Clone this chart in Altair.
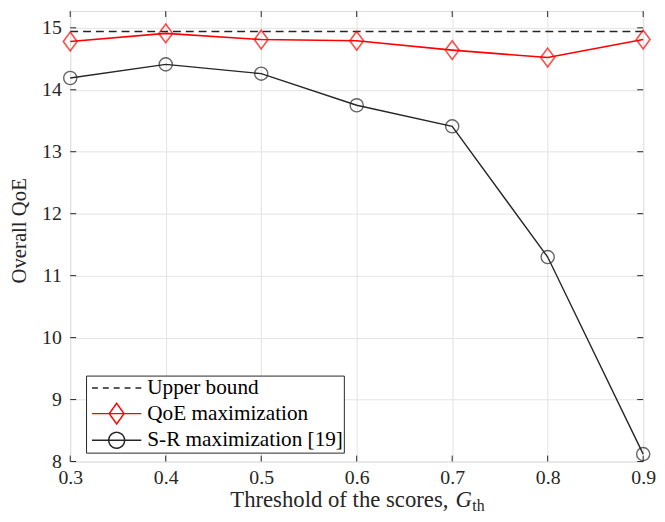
import altair as alt
import pandas as pd

thresholds = [0.3, 0.4, 0.5, 0.6, 0.7, 0.8, 0.9]
upper_bound = [14.94, 14.94, 14.94, 14.94, 14.94, 14.94, 14.94]
qoe_max = [14.78, 14.91, 14.81, 14.79, 14.64, 14.52, 14.81]
sr_max = [14.19, 14.41, 14.26, 13.75, 13.41, 11.30, 8.12]
series_names = ["Upper bound", "QoE maximization", "S-R maximization [19]"]
x_ticks = [0.3, 0.4, 0.5, 0.6, 0.7, 0.8, 0.9]
y_ticks = [8, 9, 10, 11, 12, 13, 14, 15]

rows = []
for name, vals in zip(series_names, [upper_bound, qoe_max, sr_max]):
    for t, v in zip(thresholds, vals):
        rows.append({"t": t, "v": v, "series": name})
df = pd.DataFrame(rows)

W, H = 580, 456
FONT = "Liberation Serif"
AX = "#262626"
RED = "#ff0000"

xs = alt.Scale(domain=[0.3, 0.9], nice=False, zero=False)
ys = alt.Scale(domain=[8, 15.27], nice=False, zero=False)

base = alt.Chart(df)

x_enc = alt.X("t:Q", scale=xs, axis=alt.Axis(
    values=x_ticks, format=".1f", title=None, tickSize=0, domain=False,
    labelPadding=6, labelFontSize=20, labelFont=FONT, labelColor=AX, labelFlush=False,
    grid=True, gridColor="#e3e3e3", gridWidth=1))
y_enc = alt.Y("v:Q", scale=ys, axis=alt.Axis(
    values=y_ticks, format="d", title="Overall QoE", tickSize=0, domain=False,
    labelPadding=9, labelFontSize=20, labelFont=FONT, labelColor=AX, labelFlush=False,
    titleFont=FONT, titleFontSize=21, titleFontWeight="normal", titleColor=AX,
    titleX=-51, titleY=222, titleAngle=270, titleBaseline="middle", titleAlign="center",
    grid=True, gridColor="#e3e3e3", gridWidth=1))

line_ub = base.transform_filter(alt.datum.series == "Upper bound").mark_line(
    color=AX, strokeWidth=1.4, strokeDash=[8, 5]).encode(x=x_enc, y=y_enc)
line_q = base.transform_filter(alt.datum.series == "QoE maximization").mark_line(
    color=RED, strokeWidth=1.6).encode(x="t:Q", y="v:Q")
line_s = base.transform_filter(alt.datum.series == "S-R maximization [19]").mark_line(
    color=AX, strokeWidth=1.4).encode(x="t:Q", y="v:Q")

diamond = "M0,-0.68L0.5,0L0,0.68L-0.5,0Z"
pts_q = base.transform_filter(alt.datum.series == "QoE maximization").mark_point(
    shape=diamond, size=784, color=RED, strokeWidth=1.6, filled=False).encode(x="t:Q", y="v:Q")
pts_s = base.transform_filter(alt.datum.series == "S-R maximization [19]").mark_point(
    shape="circle", size=177, color=AX, strokeWidth=1.4, filled=False).encode(x="t:Q", y="v:Q")

# legend
leg_paths = [
    "M-2.27,0H2.27",
    "M-2.27,0H2.27M0,-0.95L0.68,0L0,0.95L-0.68,0Z",
    "M-2.27,0H2.27M-0.73,0A0.73,0.73,0,1,1,0.73,0A0.73,0.73,0,1,1,-0.73,0Z",
]
leg_df = pd.DataFrame({"series": series_names})
legend = alt.Legend(
    title=None, orient="none", legendX=16, legendY=369,
    labelFont=FONT, labelFontSize=21.5, labelColor="#000000", labelLimit=400,
    symbolSize=484, symbolStrokeWidth=1.5, symbolOpacity=1,
    strokeColor=AX, fillColor="white", padding=0.5, rowPadding=1,
    symbolOffset=18.5, labelOffset=19, cornerRadius=0)
leg = alt.Chart(leg_df).mark_point(size=0, opacity=0, filled=False).encode(
    x=alt.value(0), y=alt.value(0),
    color=alt.Color("series:N", scale=alt.Scale(domain=series_names, range=[AX, RED, AX]), legend=legend),
    shape=alt.Shape("series:N", scale=alt.Scale(domain=series_names, range=leg_paths), legend=legend),
    strokeDash=alt.StrokeDash("series:N", scale=alt.Scale(domain=series_names, range=[[6, 5], [1, 0], [1, 0]]), legend=legend),
)

# inward ticks
xt = pd.DataFrame({"t": x_ticks})
yt = pd.DataFrame({"v": y_ticks})
tick_b = alt.Chart(xt).mark_rule(color=AX, strokeWidth=1).encode(x="t:Q", y=alt.value(H), y2=alt.value(H - 6))
tick_t = alt.Chart(xt).mark_rule(color=AX, strokeWidth=1).encode(x="t:Q", y=alt.value(0), y2=alt.value(6))
tick_l = alt.Chart(yt).mark_rule(color=AX, strokeWidth=1).encode(y="v:Q", x=alt.value(0), x2=alt.value(6))
tick_r = alt.Chart(yt).mark_rule(color=AX, strokeWidth=1).encode(y="v:Q", x=alt.value(W), x2=alt.value(W - 6))

# x title with subscript
tdf = pd.DataFrame({"a": [0]})
t_main = alt.Chart(tdf).mark_text(font=FONT, fontSize=23, align="left", baseline="alphabetic", color=AX).encode(
    x=alt.value(162), y=alt.value(502), text=alt.value("Threshold of the scores,"))
t_g = alt.Chart(tdf).mark_text(font=FONT, fontSize=23, fontStyle="italic", align="left", baseline="alphabetic", color=AX).encode(
    x=alt.value(390), y=alt.value(502), text=alt.value("G"))
t_th = alt.Chart(tdf).mark_text(font=FONT, fontSize=16, align="left", baseline="alphabetic", color=AX).encode(
    x=alt.value(407), y=alt.value(506), text=alt.value("th"))

chart = alt.layer(
    line_ub, line_q, line_s, pts_q, pts_s, leg,
    tick_b, tick_t, tick_l, tick_r, t_main, t_g, t_th
).properties(
    width=W, height=H,
    autosize=alt.AutoSizeParams(type="none"),
    padding={"left": 63, "top": 0, "right": 14, "bottom": 50},
).configure_view(stroke=AX, strokeWidth=1).configure_axis(
    labelFont=FONT, titleFont=FONT
).configure(background="white")

chart.save("out.html", embed_options={"renderer": "svg", "actions": False})
